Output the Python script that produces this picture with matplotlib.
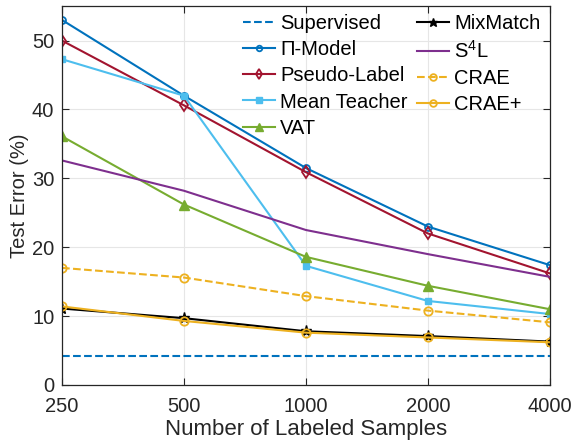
import numpy as np
import matplotlib
matplotlib.use('Agg')
import matplotlib.pyplot as plt

plt.rcParams['font.family'] = ['Liberation Sans', 'DejaVu Sans']
plt.rcParams['mathtext.fontset'] = 'custom'
plt.rcParams['mathtext.rm'] = 'Liberation Sans'
plt.rcParams['mathtext.default'] = 'regular'

# Data
samples = ['250', '500', '1000', '2000', '4000']
supervised = [4.2, 4.2, 4.2, 4.2, 4.2]
pi_model = [53.0, 42.0, 31.5, 23.0, 17.4]
pseudo_label = [50.0, 40.6, 30.9, 22.0, 16.2]
mean_teacher = [47.3, 42.0, 17.3, 12.2, 10.3]
vat = [36.1, 26.2, 18.6, 14.4, 11.0]
mixmatch = [11.1, 9.7, 7.8, 7.1, 6.3]
s4l = [32.6, 28.2, 22.5, 19.0, 15.7]
crae = [17.0, 15.6, 12.9, 10.8, 9.1]
crae_plus = [11.4, 9.3, 7.6, 6.9, 6.2]

x = np.arange(len(samples))

fig = plt.figure(figsize=(5.71, 4.42), dpi=100)
ax = fig.add_axes([0.1086, 0.129, 0.8544, 0.857])

lw = 1.5
ax.plot(x, supervised, '--', color='#0072BD', lw=lw, label='Supervised')
ax.plot(x, pi_model, '-o', color='#0072BD', lw=lw, ms=5, mfc='none', mew=1.3, label='Π-Model')
ax.plot(x, pseudo_label, '-d', color='#A2142F', lw=lw, ms=6, mfc='none', mew=1.3, label='Pseudo-Label')
ax.plot(x, mean_teacher, '-s', color='#4DBEEE', lw=lw, ms=5, label='Mean Teacher')
ax.plot(x, vat, '-^', color='#77AC30', lw=lw, ms=7, label='VAT')
ax.plot(x, mixmatch, '-*', color='black', lw=lw, ms=8, label='MixMatch')
ax.plot(x, s4l, '-', color='#7E2F8E', lw=lw, label='S$^{4}$L')
ax.plot(x, crae, '--o', color='#EDB120', lw=lw, ms=6, mfc='none', mew=1.3, label='CRAE')
ax.plot(x, crae_plus, '-o', color='#EDB120', lw=lw, ms=6, mfc='none', mew=1.3, label='CRAE+')

ax.set_xlim(0, 4)
ax.set_ylim(0, 55)
ax.set_xticks(x)
ax.set_xticklabels(samples)
ax.set_yticks([0, 10, 20, 30, 40, 50])
ax.grid(True, color='#e6e6e6', lw=0.8)
ax.set_axisbelow(True)

for s in ax.spines.values():
    s.set_color('#262626')
    s.set_linewidth(0.9)
ax.tick_params(direction='in', top=True, right=True, labelsize=14.5,
               colors='#262626', length=5)
ax.tick_params(axis='x', pad=8.5)
ax.tick_params(axis='y', pad=5.5)
ax.set_xlabel('Number of Labeled Samples', fontsize=16, color='#262626', labelpad=2.5)
ax.set_ylabel('Test Error (%)', fontsize=14.5, color='#262626', labelpad=2)

ax.legend(ncol=2, frameon=False, fontsize=14.5, loc='upper left',
          bbox_to_anchor=(0.371, 0.98), borderpad=0, borderaxespad=0,
          handlelength=1.6, handletextpad=0.25, columnspacing=0.45,
          labelspacing=0.36, markerscale=0.8)

fig.savefig('out.png', dpi=100)
